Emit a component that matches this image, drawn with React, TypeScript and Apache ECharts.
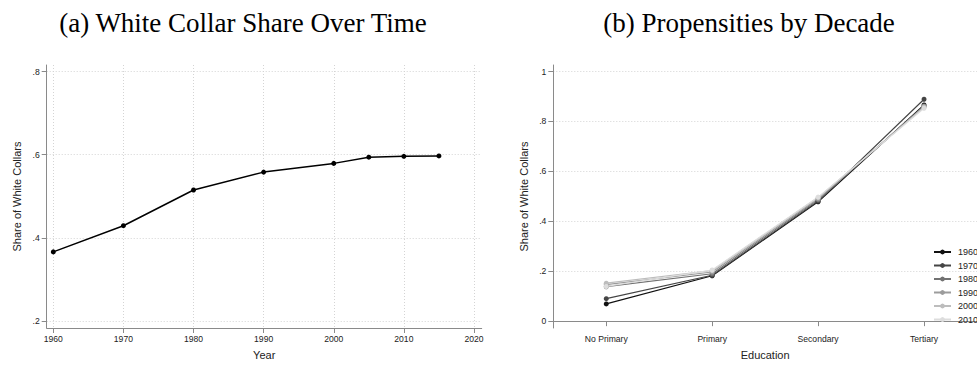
import React, { useEffect, useRef } from 'react';
import * as echarts from 'echarts';

// Panel (a)
const years = [1960, 1970, 1980, 1990, 2000, 2005, 2010, 2015];
const whiteCollarShare = [0.366, 0.429, 0.515, 0.558, 0.579, 0.594, 0.596, 0.597];
const yearTicks = [1960, 1970, 1980, 1990, 2000, 2010, 2020];
const shareTicksA = [0.2, 0.4, 0.6, 0.8];

// Panel (b)
const educationLevels = ['No Primary', 'Primary', 'Secondary', 'Tertiary'];
const decades = ['1960', '1970', '1980', '1990', '2000', '2010'];
const prop1960 = [0.069, 0.182, 0.478, 0.866];
const prop1970 = [0.09, 0.184, 0.481, 0.889];
const prop1980 = [0.138, 0.19, 0.486, 0.862];
const prop1990 = [0.146, 0.197, 0.49, 0.86];
const prop2000 = [0.152, 0.203, 0.495, 0.857];
const prop2010 = [0.139, 0.205, 0.497, 0.853];
const propensities = [prop1960, prop1970, prop1980, prop1990, prop2000, prop2010];
const shareTicksB = [0, 0.2, 0.4, 0.6, 0.8, 1];

const decadeColors = ['#111111', '#454545', '#727272', '#9c9c9c', '#bdbdbd', '#dddddd'];

const SANS = '"Liberation Sans", Arial, sans-serif';
const SERIF = '"Liberation Serif", "Times New Roman", serif';
const AXIS_COLOR = '#8a8a8a';
const GRID_COLOR = '#d4d4d4';
const LABEL_COLOR = '#222222';

const fmtShare = (v: number) => {
  if (Math.abs(v) < 1e-9) return '0';
  if (Math.abs(v - 1) < 1e-9) return '1';
  return v.toFixed(1).replace(/^0/, '');
};
const fmtYear = (v: number) => String(Math.round(v));

export default function App() {
  const ref = useRef<HTMLDivElement>(null);

  useEffect(() => {
    document.body.style.margin = '0';
    if (!ref.current) return;
    const chart = echarts.init(ref.current, undefined, { renderer: 'svg' });

    const axisCommon = {
      axisLine: { show: true, lineStyle: { color: AXIS_COLOR, width: 1 } },
      axisTick: { show: true, length: 5, lineStyle: { color: AXIS_COLOR, width: 1 } },
      axisLabel: { color: LABEL_COLOR, fontSize: 8.6, fontFamily: SANS },
      nameTextStyle: { color: LABEL_COLOR, fontSize: 11, fontFamily: SANS },
    };

    const option: any = {
      animation: false,
      backgroundColor: '#ffffff',
      graphic: [
        {
          type: 'text',
          x: 243,
          y: 23,
          style: {
            text: '(a) White Collar Share Over Time',
            fontSize: 27,
            fontFamily: SERIF,
            fill: '#000',
            align: 'center',
            verticalAlign: 'middle',
          },
        },
        {
          type: 'text',
          x: 749,
          y: 23,
          style: {
            text: '(b) Propensities by Decade',
            fontSize: 27,
            fontFamily: SERIF,
            fill: '#000',
            align: 'center',
            verticalAlign: 'middle',
          },
        },
      ],
      legend: {
        show: true,
        orient: 'vertical',
        left: 933,
        top: 247,
        itemWidth: 17,
        itemHeight: 6,
        itemGap: 3.5,
        data: decades,
        textStyle: { color: LABEL_COLOR, fontSize: 9, fontFamily: SANS, lineHeight: 10, padding: [0, 0, 0, 2] },
        padding: 0,
      },
      grid: [
        { left: 46.7, top: 65, width: 435, height: 269 },
        { left: 553.3, top: 65, width: 434.7, height: 269 },
      ],
      xAxis: [
        {
          ...axisCommon,
          gridIndex: 0,
          type: 'value',
          min: 1959.06,
          max: 2021.1,
          name: 'Year',
          nameLocation: 'middle',
          nameGap: 21,
          axisTick: { ...axisCommon.axisTick, customValues: yearTicks },
          axisLabel: { ...axisCommon.axisLabel, customValues: yearTicks, margin: 6, formatter: fmtYear },
          splitLine: { show: true, lineStyle: { color: GRID_COLOR, type: [1, 2], width: 1 } },
        },
        {
          ...axisCommon,
          gridIndex: 1,
          type: 'category',
          data: educationLevels,
          boundaryGap: true,
          name: 'Education',
          nameLocation: 'middle',
          nameGap: 21,
          axisTick: { ...axisCommon.axisTick, alignWithLabel: true },
          axisLabel: { ...axisCommon.axisLabel, margin: 6, interval: 0 },
          splitLine: { show: false },
        },
      ],
      yAxis: [
        {
          ...axisCommon,
          gridIndex: 0,
          type: 'value',
          min: 0.1828,
          max: 0.8158,
          name: 'Share of White Collars',
          nameLocation: 'middle',
          nameGap: 24,
          axisTick: { ...axisCommon.axisTick, customValues: shareTicksA },
          axisLabel: { ...axisCommon.axisLabel, customValues: shareTicksA, margin: 7, formatter: fmtShare },
          splitLine: { show: true, lineStyle: { color: GRID_COLOR, type: [1, 2], width: 1 } },
        },
        {
          ...axisCommon,
          gridIndex: 1,
          type: 'value',
          min: -0.0274,
          max: 1.0262,
          name: 'Share of White Collars',
          nameLocation: 'middle',
          nameGap: 24,
          axisTick: { ...axisCommon.axisTick, customValues: shareTicksB },
          axisLabel: { ...axisCommon.axisLabel, customValues: shareTicksB, margin: 7, formatter: fmtShare },
          splitLine: { show: true, lineStyle: { color: GRID_COLOR, type: [1, 2], width: 1 } },
        },
      ],
      series: [
        {
          type: 'line',
          xAxisIndex: 0,
          yAxisIndex: 0,
          data: years.map((y, i) => [y, whiteCollarShare[i]]),
          symbol: 'circle',
          symbolSize: 5,
          color: '#000000',
          lineStyle: { color: '#000000', width: 1.5 },
          itemStyle: { color: '#000000' },
          silent: true,
        },
        ...propensities.map((vals, k) => ({
          type: 'line',
          name: decades[k],
          xAxisIndex: 1,
          yAxisIndex: 1,
          data: vals,
          symbol: 'circle',
          symbolSize: 5,
          color: decadeColors[k],
          lineStyle: { color: decadeColors[k], width: 1.2 },
          itemStyle: { color: decadeColors[k] },
          silent: true,
        })),
      ],
    };

    chart.setOption(option);
    return () => chart.dispose();
  }, []);

  return (
    <div
      ref={ref}
      style={{ position: 'absolute', left: 0, top: 0, width: 977, height: 365, overflow: 'hidden' }}
    />
  );
}
